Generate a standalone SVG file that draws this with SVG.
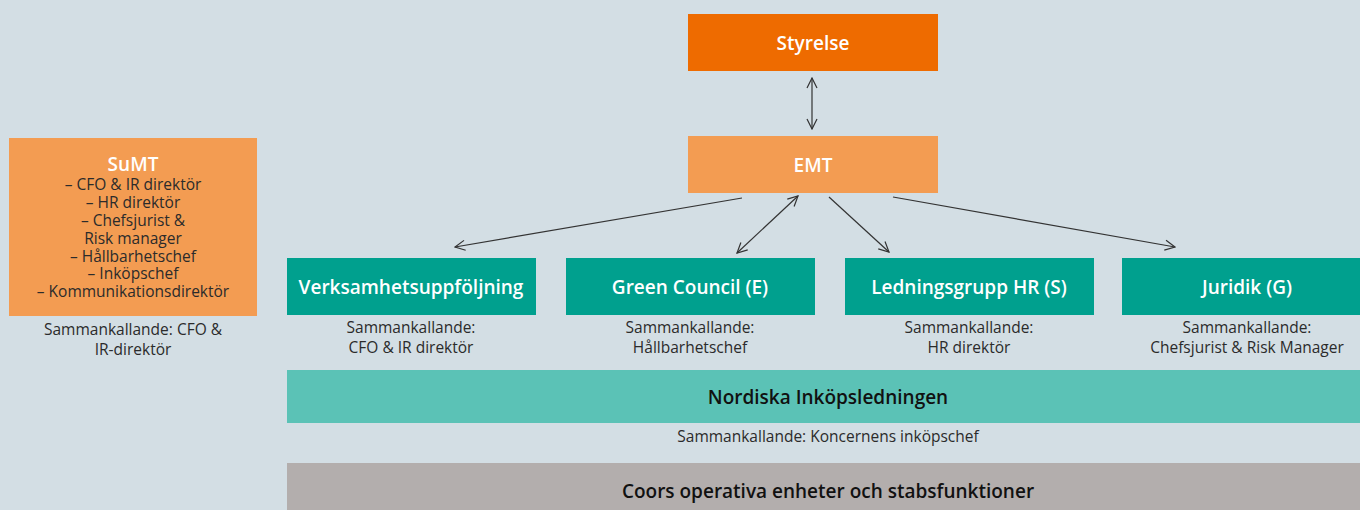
<svg xmlns="http://www.w3.org/2000/svg" width="1360" height="510" viewBox="0 0 1360 510">
<style>
.title{font-family:"Open Sans","DejaVu Sans",sans-serif;font-weight:600;font-size:19px;fill:#fff;text-anchor:middle}
.sub{font-family:"Open Sans","DejaVu Sans",sans-serif;font-size:15.5px;fill:#2b2b2b;text-anchor:middle}
.bar{font-family:"Open Sans","DejaVu Sans",sans-serif;font-weight:600;font-size:19px;fill:#111;text-anchor:middle}
.teal{fill:#00A08E}
.conn{stroke:#333;stroke-width:1.2;fill:none}
</style>
<defs>
<marker id="ah" viewBox="0 0 12 12" refX="11" refY="6" markerWidth="12" markerHeight="12" markerUnits="userSpaceOnUse" orient="auto-start-reverse">
<path d="M1,1 L11,6 L1,11" fill="none" stroke="#333" stroke-width="1.2"/>
</marker>
</defs>
<rect width="1360" height="510" fill="#D3DEE4"/>

<g id="sumt">
<rect x="9" y="138" width="248" height="178" fill="#F39C52"/>
<text class="title" x="133" y="171">SuMT</text>
<text class="sub" x="133" y="190">– CFO &amp; IR direktör</text>
<text class="sub" x="133" y="208">– HR direktör</text>
<text class="sub" x="133" y="226">– Chefsjurist &amp;</text>
<text class="sub" x="133" y="244">Risk manager</text>
<text class="sub" x="133" y="262">– Hållbarhetschef</text>
<text class="sub" x="133" y="279">– Inköpschef</text>
<text class="sub" x="133" y="297">– Kommunikationsdirektör</text>
<text class="sub" x="133" y="335">Sammankallande: CFO &amp;</text>
<text class="sub" x="133" y="355">IR-direktör</text>
</g>

<g id="styrelse">
<rect x="688" y="14" width="250" height="57" fill="#EE6B00"/>
<text class="title" x="813" y="50">Styrelse</text>
</g>

<g id="emt">
<rect x="688" y="136" width="250" height="57" fill="#F39C52"/>
<text class="title" x="813" y="172">EMT</text>
</g>

<g id="verksamhet">
<rect class="teal" x="287" y="258" width="249" height="57"/>
<text class="title" x="411" y="294">Verksamhetsuppföljning</text>
<text class="sub" x="411" y="333">Sammankallande:</text>
<text class="sub" x="411" y="353">CFO &amp; IR direktör</text>
</g>

<g id="green">
<rect class="teal" x="566" y="258" width="249" height="57"/>
<text class="title" x="690" y="294">Green Council (E)</text>
<text class="sub" x="690" y="333">Sammankallande:</text>
<text class="sub" x="690" y="353">Hållbarhetschef</text>
</g>

<g id="hr">
<rect class="teal" x="845" y="258" width="249" height="57"/>
<text class="title" x="969" y="294">Ledningsgrupp HR (S)</text>
<text class="sub" x="969" y="333">Sammankallande:</text>
<text class="sub" x="969" y="353">HR direktör</text>
</g>

<g id="juridik">
<rect class="teal" x="1122" y="258" width="238" height="57"/>
<text class="title" x="1247" y="294">Juridik (G)</text>
<text class="sub" x="1247" y="333">Sammankallande:</text>
<text class="sub" x="1247" y="353">Chefsjurist &amp; Risk Manager</text>
</g>

<g id="nordiska">
<rect x="287" y="370" width="1073" height="53" fill="#5BC2B6"/>
<text class="bar" x="828" y="404">Nordiska Inköpsledningen</text>
<text class="sub" x="828" y="442">Sammankallande: Koncernens inköpschef</text>
</g>

<g id="coors">
<rect x="287" y="463" width="1073" height="47" fill="#B3AEAD"/>
<text class="bar" x="828" y="498">Coors operativa enheter och stabsfunktioner</text>
</g>

<g id="connectors">
<line class="conn" x1="812" y1="78" x2="812" y2="129" marker-start="url(#ah)" marker-end="url(#ah)"/>
<line class="conn" x1="742" y1="198" x2="455" y2="247" marker-end="url(#ah)"/>
<line class="conn" x1="798" y1="196" x2="737" y2="253" marker-start="url(#ah)" marker-end="url(#ah)"/>
<line class="conn" x1="829" y1="197" x2="889" y2="252" marker-end="url(#ah)"/>
<line class="conn" x1="893" y1="197" x2="1175" y2="247" marker-end="url(#ah)"/>
</g>
</svg>
